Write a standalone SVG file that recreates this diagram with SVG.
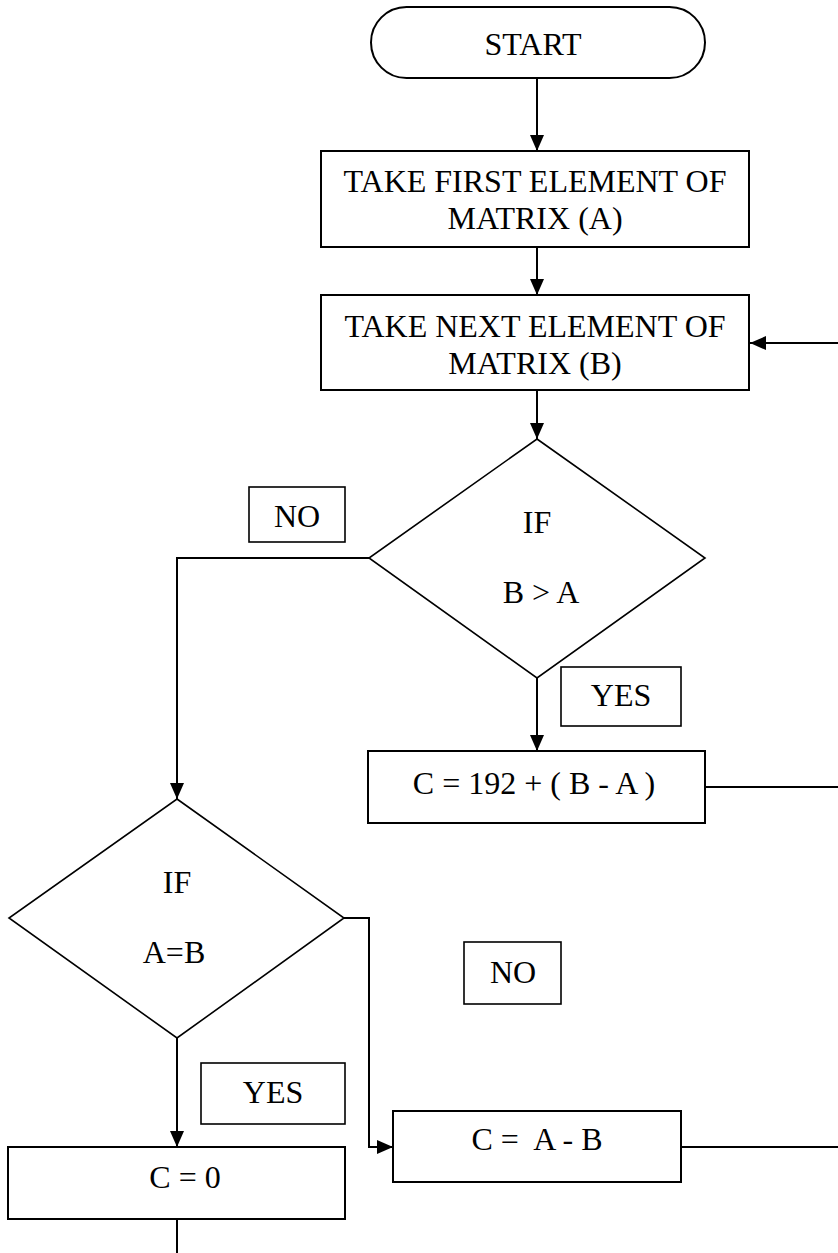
<svg xmlns="http://www.w3.org/2000/svg" width="838" height="1253" viewBox="0 0 838 1253">
<style>
  .shape { fill: #ffffff; stroke: #000000; stroke-width: 2; }
  .dia { fill: #ffffff; stroke: #000000; stroke-width: 1.6; }
  .lbl { fill: #ffffff; stroke: #000000; stroke-width: 1.6; }
  .t { font-family: "Liberation Serif", "Times New Roman", serif; font-size: 32px; fill: #000000; text-anchor: middle; white-space: pre; }
  .conn { fill: none; stroke: #000000; stroke-width: 2; }
</style>
<defs>
  <marker id="arr" viewBox="0 0 16 14" refX="16" refY="7" markerWidth="16" markerHeight="14" markerUnits="userSpaceOnUse" orient="auto">
    <path d="M0,0 L16,7 L0,14 Z" fill="#000000"/>
  </marker>
</defs>
<rect width="838" height="1253" fill="#ffffff"/>

<g id="connectors">
  <line class="conn" x1="537" y1="78" x2="537" y2="151" marker-end="url(#arr)"/>
  <line class="conn" x1="537" y1="247" x2="537" y2="295" marker-end="url(#arr)"/>
  <line class="conn" x1="838" y1="343" x2="750" y2="343" marker-end="url(#arr)"/>
  <line class="conn" x1="537" y1="390" x2="537" y2="439" marker-end="url(#arr)"/>
  <line class="conn" x1="537" y1="678" x2="537" y2="751" marker-end="url(#arr)"/>
  <polyline class="conn" points="369,558 177,558 177,799" marker-end="url(#arr)"/>
  <line class="conn" x1="705" y1="787" x2="838" y2="787"/>
  <line class="conn" x1="177" y1="1038" x2="177" y2="1147" marker-end="url(#arr)"/>
  <polyline class="conn" points="344,918 369,918 369,1147 393,1147" marker-end="url(#arr)"/>
  <line class="conn" x1="681" y1="1147" x2="838" y2="1147"/>
  <line class="conn" x1="177" y1="1219" x2="177" y2="1253"/>
</g>

<g id="start">
  <rect class="shape" x="371" y="7" width="334" height="71" rx="35.5" ry="35.5"/>
  <text class="t" x="533" y="55">START</text>
</g>

<g id="take-first">
  <rect class="shape" x="321" y="151" width="428" height="96"/>
  <text class="t" x="535" y="192">TAKE FIRST ELEMENT OF</text>
  <text class="t" x="535" y="229">MATRIX (A)</text>
</g>

<g id="take-next">
  <rect class="shape" x="321" y="295" width="428" height="95"/>
  <text class="t" x="535" y="337">TAKE NEXT ELEMENT OF</text>
  <text class="t" x="535" y="374">MATRIX (B)</text>
</g>

<g id="if-b-gt-a">
  <polygon class="dia" points="537,439 705,558 537,678 369,558"/>
  <text class="t" x="537" y="533">IF</text>
  <text class="t" x="541" y="603">B &gt; A</text>
</g>

<g id="label-no-1">
  <rect class="lbl" x="249" y="487" width="96" height="55"/>
  <text class="t" x="297" y="527">NO</text>
</g>

<g id="label-yes-1">
  <rect class="lbl" x="561" y="667" width="120" height="59"/>
  <text class="t" x="621" y="706">YES</text>
</g>

<g id="c-192">
  <rect class="shape" x="368" y="751" width="337" height="72"/>
  <text class="t" x="534" y="794">C = 192 + ( B - A )</text>
</g>

<g id="if-a-eq-b">
  <polygon class="dia" points="177,799 344,918 177,1038 9,918"/>
  <text class="t" x="177" y="893">IF</text>
  <text class="t" x="174" y="963">A=B</text>
</g>

<g id="label-no-2">
  <rect class="lbl" x="464" y="942" width="97" height="62"/>
  <text class="t" x="513" y="983">NO</text>
</g>

<g id="label-yes-2">
  <rect class="lbl" x="201" y="1063" width="144" height="61"/>
  <text class="t" x="273" y="1103">YES</text>
</g>

<g id="c-zero">
  <rect class="shape" x="8" y="1147" width="337" height="72"/>
  <text class="t" x="185" y="1188">C = 0</text>
</g>

<g id="c-a-minus-b">
  <rect class="shape" x="393" y="1111" width="288" height="71"/>
  <text class="t" x="537" y="1150">C =  A - B</text>
</g>
</svg>
